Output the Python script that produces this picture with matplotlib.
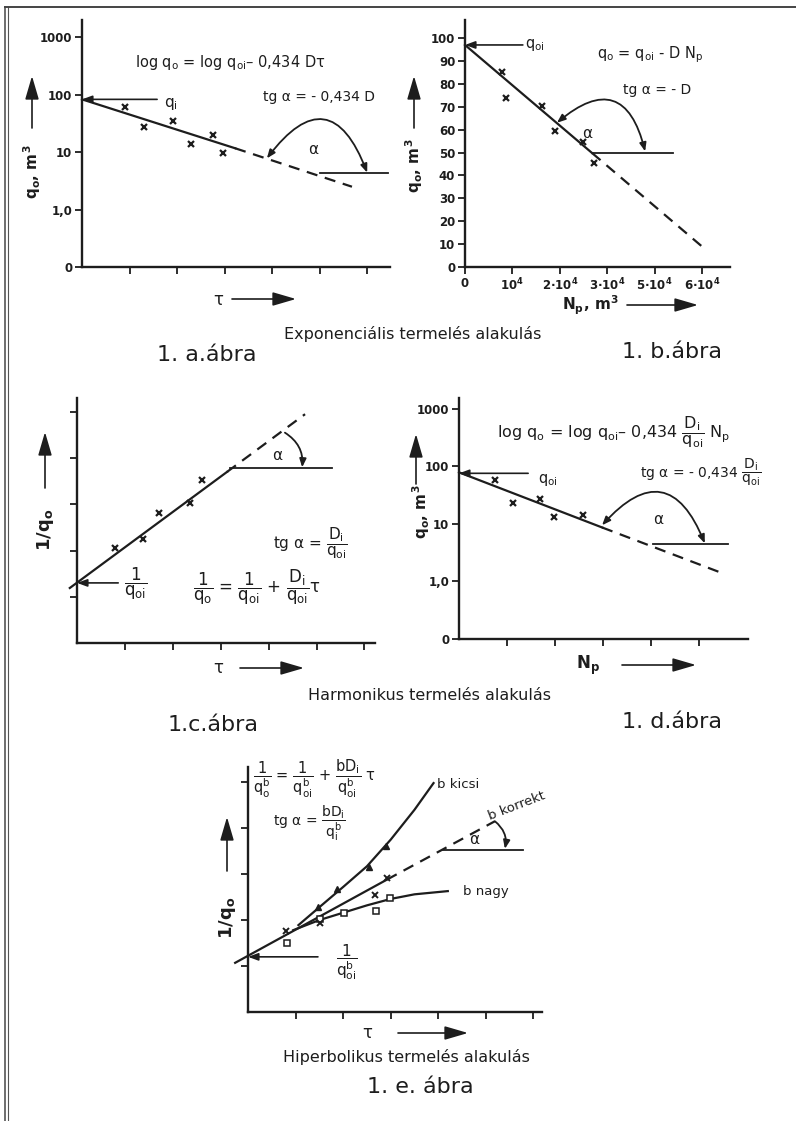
import matplotlib.pyplot as plt
import numpy as np

W, H = 796, 1121
INK = "#1d1d1d"

plt.rcParams["font.family"] = ["DejaVu Sans"]
plt.rcParams["mathtext.default"] = "regular"

# 1.a  exponential decline, q vs time on a log axis
a_t = [0.91, 1.31, 1.92, 2.29, 2.76, 2.97]
a_q = [60, 27, 35, 14, 20, 9.5]
a_fit_t = [0, 3.22, 5.68]
a_fit_q = [83, 11.7, 2.5]

# 1.b  exponential decline, q vs cumulative production (linear)
b_np = [0.78, 0.86, 1.62, 1.90, 2.49, 2.72]
b_q = [85.2, 73.8, 70.3, 59.4, 54.6, 45.4]
b_fit_np = [0, 2.68, 5.02]
b_fit_q = [97, 49.8, 8.6]
b_xticks = ["0", "10$^4$", "2·10$^4$", "3·10$^4$", "5·10$^4$", "6·10$^4$"]

# 1.c  harmonic decline, 1/q vs time
c_t = [0.79, 1.38, 1.71, 2.36, 2.61]
c_inv = [2.06, 2.25, 2.81, 3.03, 3.53]
c_fit_t = [-0.15, 3.13, 4.76]
c_fit_inv = [1.19, 3.70, 4.95]

# 1.d  harmonic decline, log q vs cumulative production
d_np = [0.75, 1.13, 1.69, 1.98, 2.58]
d_q = [59, 23, 27, 13, 14.5]
d_fit_np = [0, 2.98, 5.48]
d_fit_q = [79, 8.7, 1.4]

# 1.e  hyperbolic decline, 1/q vs time for three b values
e_kor_t = [-0.27, 2.92, 5.19]
e_kor_y = [1.07, 2.88, 4.15]
e_kicsi_t = [1.06, 1.5, 2.0, 2.5, 3.0, 3.5, 3.9]
e_kicsi_y = [1.89, 2.28, 2.72, 3.17, 3.75, 4.4, 4.98]
e_nagy_t = [0.95, 1.5, 2.0, 2.5, 3.0, 3.5, 4.2]
e_nagy_y = [1.78, 2.0, 2.16, 2.32, 2.46, 2.56, 2.63]
e_tri_t = [1.48, 1.88, 2.55, 2.91]
e_tri_y = [2.29, 2.67, 3.15, 3.61]
e_sq_t = [0.82, 1.51, 2.02, 2.69, 2.98]
e_sq_y = [1.50, 2.02, 2.15, 2.20, 2.48]
e_x_t = [0.80, 1.51, 2.67, 2.92]
e_x_y = [1.76, 1.93, 2.54, 2.91]

LOG_TICKS = [0, 1, 10, 100, 1000]
LOG_LABELS = ["0", "1,0", "10", "100", "1000"]


def fwd(q):
    return np.log10(np.maximum(q, 0.1)) + 1


def inv(y):
    return 10 ** (np.asarray(y) - 1)


fig = plt.figure(figsize=(W / 100, H / 100), dpi=100, facecolor="white")


def panel(x0, y0, x1, ytop, xmax, ymax, log=False):
    ax = fig.add_axes([x0 / W, 1 - y0 / H, (x1 - x0) / W, (y0 - ytop) / H])
    ax.set_facecolor("none")
    if log:
        ax.set_yscale("function", functions=(fwd, inv))
    ax.set_xlim(0, xmax)
    ax.set_ylim(0, ymax)
    for side in ("top", "right"):
        ax.spines[side].set_visible(False)
    for side in ("left", "bottom"):
        ax.spines[side].set_linewidth(1.7)
        ax.spines[side].set_color(INK)
    ax.tick_params(direction="out", length=5, width=1.3, colors=INK,
                   labelsize=8.5, pad=2)
    ax.minorticks_off()
    return ax


def fit_line(ax, xs, ys):
    ax.plot(xs[:2], ys[:2], color=INK, lw=1.6, clip_on=False)
    ax.plot(xs[1:], ys[1:], color=INK, lw=1.6, ls=(0, (5, 3.5)), clip_on=False)


def pointer(ax, x, y):
    ax.annotate("", xy=(0, y), xytext=(x, y), annotation_clip=False,
                arrowprops=dict(arrowstyle="-|>,head_length=0.6,head_width=0.22",
                                mutation_scale=10, lw=1.2, color=INK,
                                shrinkA=0, shrinkB=0))


def angle_arc(ax, start, end, rad, both=True):
    style = "<|-|>" if both else "-|>"
    ax.annotate("", xy=end, xytext=start, annotation_clip=False,
                arrowprops=dict(arrowstyle=style + ",head_length=0.5,head_width=0.2",
                                mutation_scale=10, lw=1.3, color=INK,
                                connectionstyle=f"arc3,rad={rad}",
                                shrinkA=0, shrinkB=0))


# --- 1.a
ax = panel(82, 267, 390, 20, 6.48, 2000, log=True)
ax.set_yticks(LOG_TICKS, LOG_LABELS, fontweight="bold")
ax.set_xticks(range(1, 7), [])
fit_line(ax, a_fit_t, a_fit_q)
ax.plot(a_t, a_q, "x", color=INK, ms=4, mew=1.6, clip_on=False)
pointer(ax, 1.58, 83)
ax.plot([5.01, 6.44], [4.3, 4.3], color=INK, lw=1.3, clip_on=False)
angle_arc(ax, (3.89, 7.8), (6.0, 4.4), -0.9)

# --- 1.b
ax = panel(465, 267, 730, 20, 5.59, 107.9)
ax.set_yticks(range(0, 101, 10), [str(v) for v in range(0, 101, 10)],
              fontweight="bold")
ax.set_xticks(range(6), b_xticks, fontweight="bold")
fit_line(ax, b_fit_np, b_fit_q)
ax.plot(b_np, b_q, "x", color=INK, ms=4, mew=1.6, clip_on=False)
pointer(ax, 1.22, 97)
ax.plot([2.7, 4.39], [50, 50], color=INK, lw=1.3, clip_on=False)
angle_arc(ax, (1.94, 63), (3.8, 50.5), -0.8)

# --- 1.c
ax = panel(77, 643, 375, 398, 6.22, 5.30)
ax.set_yticks(range(1, 6), [])
ax.set_xticks(range(1, 7), [])
fit_line(ax, c_fit_t, c_fit_inv)
ax.plot(c_t, c_inv, "x", color=INK, ms=4, mew=1.6, clip_on=False)
pointer(ax, 0.86, 1.30)
ax.plot([3.2, 5.32], [3.78, 3.78], color=INK, lw=1.3, clip_on=False)
angle_arc(ax, (4.34, 4.55), (4.70, 3.80), -0.3, both=False)

# --- 1.d
ax = panel(459, 639, 748, 398, 6.02, 1550, log=True)
ax.set_yticks(LOG_TICKS, LOG_LABELS, fontweight="bold")
ax.set_xticks(range(1, 6), [])
fit_line(ax, d_fit_np, d_fit_q)
ax.plot(d_np, d_q, "x", color=INK, ms=4, mew=1.6, clip_on=False)
pointer(ax, 1.44, 76)
ax.plot([4.04, 5.6], [4.5, 4.5], color=INK, lw=1.3, clip_on=False)
angle_arc(ax, (2.98, 9.5), (5.12, 4.6), -0.8)

# --- 1.e
ax = panel(248, 1012, 542, 767, 6.18, 5.33)
ax.set_yticks(range(1, 6), [])
ax.set_xticks(range(1, 7), [])
fit_line(ax, e_kor_t, e_kor_y)
ax.plot(e_kicsi_t, e_kicsi_y, color=INK, lw=1.6, clip_on=False)
ax.plot(e_nagy_t, e_nagy_y, color=INK, lw=1.6, clip_on=False)
ax.plot(e_tri_t, e_tri_y, "^", color=INK, ms=4.5, clip_on=False)
ax.plot(e_sq_t, e_sq_y, "s", mfc="white", mec=INK, ms=4.5, mew=1.1, clip_on=False)
ax.plot(e_x_t, e_x_y, "x", color=INK, ms=4, mew=1.4, clip_on=False)
pointer(ax, 1.47, 1.2)
ax.plot([4.1, 5.78], [3.53, 3.53], color=INK, lw=1.3, clip_on=False)
angle_arc(ax, (5.19, 4.15), (5.40, 3.55), -0.3, both=False)

# --- lettering, axis arrows and frame on a pixel-space overlay
ov = fig.add_axes([0, 0, 1, 1], zorder=5)
ov.set_xlim(0, W)
ov.set_ylim(H, 0)
ov.axis("off")

ov.plot([5, 5], [7, H], color="#555555", lw=1.2)
ov.plot([8, 8], [7, H], color="#555555", lw=0.8)
ov.plot([5, W], [7, 7], color="#444444", lw=1.4)


def big_arrow(x0, y0, x1, y1):
    ov.annotate("", xy=(x1, y1), xytext=(x0, y0),
                arrowprops=dict(arrowstyle="-|>,head_length=1.3,head_width=0.38",
                                mutation_scale=11, lw=1.2, color=INK,
                                shrinkA=0, shrinkB=0))


def t(x, y, s, size=9.5, ha="left", **kw):
    ov.text(x, y, s, fontsize=size, ha=ha, va="center", color=INK, **kw)


ylab = dict(size=11, ha="center", rotation=90, fontweight="bold")

# 1.a
big_arrow(32, 128, 32, 76)
t(32, 172, "$q_o$, m$^3$", **ylab)
t(164, 104, "$q_i$", size=11)
t(135, 62, "log $q_o$ = log $q_{oi}$– 0,434 Dτ", size=10.5)
t(263, 97, "tg α = - 0,434 D", size=10)
t(313, 150, "α", size=11, ha="center")
t(218, 300, "τ", size=12, ha="center")
big_arrow(232, 299, 296, 299)

# 1.b
big_arrow(414, 128, 414, 76)
t(414, 166, "$q_o$, m$^3$", **ylab)
t(525, 45, "$q_{oi}$", size=10.5)
t(597, 55, "$q_o$ = $q_{oi}$ - D $N_p$", size=10.5)
t(623, 90, "tg α = - D", size=10)
t(587, 133, "α", size=11, ha="center")
t(590, 305, "$N_p$, m$^3$", size=11, ha="center", fontweight="bold")
big_arrow(627, 305, 698, 305)
t(413, 334, "Exponenciális termelés alakulás", size=11.5, ha="center")
t(207, 355, "1. a.ábra", size=16, ha="center")
t(672, 352, "1. b.ábra", size=16, ha="center")

# 1.c
big_arrow(45, 488, 45, 432)
t(45, 530, "1/$q_o$", size=13, ha="center", rotation=90, fontweight="bold")
t(124, 584, r"$\dfrac{1}{q_{oi}}$", size=12)
t(273, 543, r"tg α = $\dfrac{D_i}{q_{oi}}$", size=11)
t(193, 587, r"$\dfrac{1}{q_o}$ = $\dfrac{1}{q_{oi}}$ + $\dfrac{D_i}{q_{oi}}$τ", size=12)
t(277, 455, "α", size=11, ha="center")
t(218, 668, "τ", size=12, ha="center")
big_arrow(240, 668, 304, 668)
t(430, 695, "Harmonikus termelés alakulás", size=11.5, ha="center")
t(213, 725, "1.c.ábra", size=16, ha="center")

# 1.d
big_arrow(416, 484, 416, 434)
t(421, 512, "$q_o$, m$^3$", **ylab)
t(538, 480, "$q_{oi}$", size=10.5)
t(497, 432, r"log $q_o$ = log $q_{oi}$– 0,434 $\dfrac{D_i}{q_{oi}}$ $N_p$", size=11.5)
t(640, 472, r"tg α = - 0,434 $\dfrac{D_i}{q_{oi}}$", size=10)
t(658, 520, "α", size=11, ha="center")
t(588, 665, "$N_p$", size=12, ha="center", fontweight="bold")
big_arrow(622, 665, 696, 665)
t(672, 722, "1. d.ábra", size=16, ha="center")

# 1.e
big_arrow(227, 871, 227, 817)
t(227, 918, "1/$q_o$", size=13, ha="center", rotation=90, fontweight="bold")
t(253, 779, r"$\dfrac{1}{q_o^b}$ = $\dfrac{1}{q_{oi}^b}$ + $\dfrac{bD_i}{q_{oi}^b}$ τ", size=10.5)
t(273, 823, r"tg α = $\dfrac{bD_i}{q_i^b}$", size=10)
t(336, 962, r"$\dfrac{1}{q_{oi}^b}$", size=11)
t(437, 785, "b kicsi", size=9.5)
t(517, 806, "b korrekt", size=9.5, ha="center", rotation=21)
t(463, 892, "b nagy", size=9.5)
t(474, 840, "α", size=11, ha="center")
t(367, 1033, "τ", size=12, ha="center")
big_arrow(398, 1033, 468, 1033)
t(406, 1057, "Hiperbolikus termelés alakulás", size=11.5, ha="center")
t(420, 1087, "1. e. ábra", size=16, ha="center")

fig.savefig("out.png", dpi=100, facecolor="white")
